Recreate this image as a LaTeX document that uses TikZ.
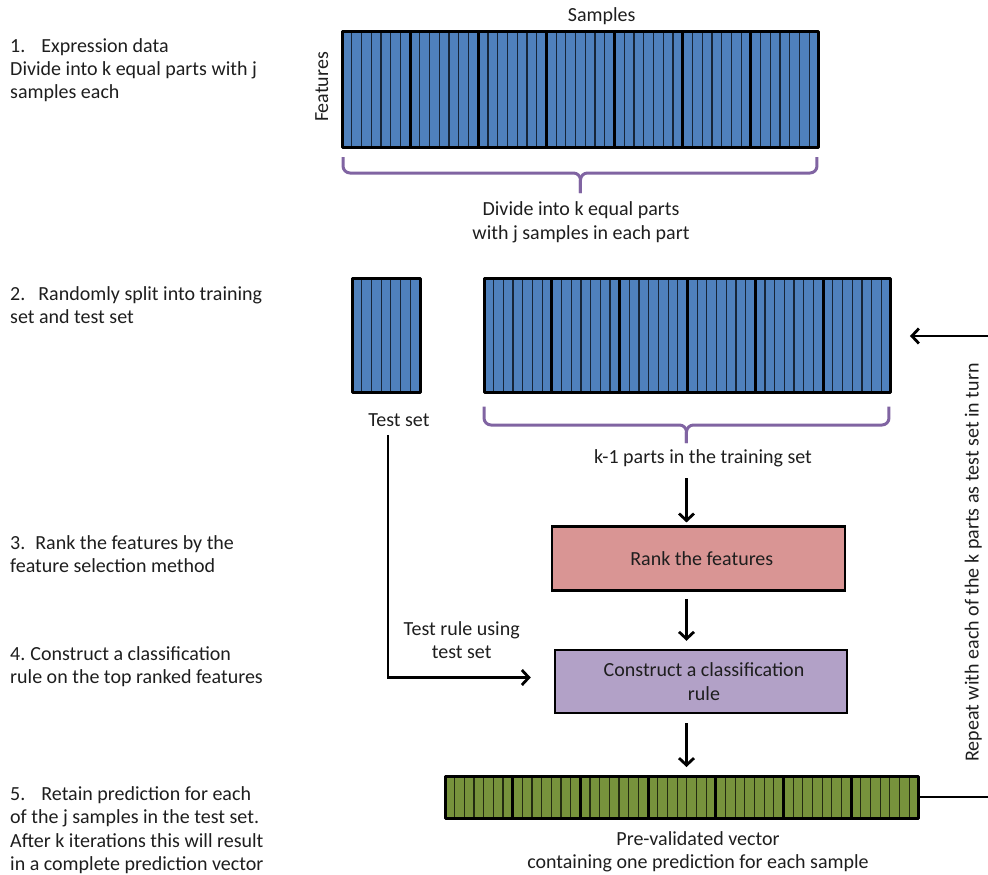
\documentclass[tikz,border=0pt]{standalone}
\usepackage{fontspec}
\setmainfont{Carlito}
\usetikzlibrary{arrows.meta,calc}

\definecolor{partblue}{HTML}{4F81BD}
\definecolor{partgreen}{HTML}{77933C}
\definecolor{rankpink}{HTML}{D99594}
\definecolor{rulelilac}{HTML}{B2A1C7}
\definecolor{bracepurple}{HTML}{8064A2}
\definecolor{inktext}{HTML}{1E1E1E}

\tikzset{
  blocknode/.style={inner sep=0pt, outer sep=0pt},
  stripeline/.style={draw=black, draw opacity=0.7, line width=1.2pt},
  partedge/.style={draw=black, line width=3pt, line join=round},
  bracestroke/.style={draw=bracepurple, line width=3pt, rounded corners=7pt},
  stepbox/.style={draw=black, line width=2.5pt, inner sep=0pt, align=center},
  lbl/.style={inner sep=0pt, text height=13pt, text depth=4pt},
  para/.style={inner sep=0pt},
  flow/.style={draw=black, line width=2.8pt},
  arrow/.style={flow, -{Straight Barb[length=7pt,width=15pt]}},
}

% striped block: name, left, top, part width, height, number of parts, fill colour
\newcommand{\partstrip}[7]{%
  \node[blocknode, minimum width={#4*#6*1pt}, minimum height={#5*1pt}, anchor=north west] (#1) at (#2,#3) {};
  \foreach \k in {1,...,#6}{%
    \pgfmathsetmacro{\xa}{#2+(\k-1)*#4}%
    \fill[#7] (\xa,#3) rectangle ++(#4,#5);
    \foreach \s in {1,...,6}{\draw[stripeline] ({\xa+\s*#4/7},#3) -- ++(0,#5);}
    \draw[partedge] (\xa,#3) rectangle ++(#4,#5);
  }%
}

\begin{document}
\begin{tikzpicture}[x=1pt, y=-1pt, font=\fontsize{20}{23.3}\selectfont, text=inktext]
\useasboundingbox (0,0) rectangle (988,875);

% ---- step descriptions on the left
\node[para, anchor=west, align=left] (s1) at (10,70.3)
  {1.\hspace{0.8em}Expression data\\Divide into k equal parts with j\\samples each};
\node[para, anchor=west, align=left] (s2) at (10,304.8)
  {2.\hspace{0.65em}Randomly split into training\\set and test set};
\node[para, anchor=west, align=left] (s3) at (10,554.3)
  {3.\hspace{0.5em}Rank the features by the\\feature selection method};
\node[para, anchor=west, align=left] (s4) at (10,666.8)
  {4.\hspace{0.25em}Construct a classification\\rule on the top ranked features};
\node[para, anchor=west, align=left] (s5) at (10,830.3)
  {5.\hspace{0.8em}Retain prediction for each\\of the j samples in the test set.\\After k iterations this will result\\in a complete prediction vector};

% ---- expression data matrix
\partstrip{data}{342}{32}{68.14}{115}{7}{partblue}
\node[lbl] (samples) at (601.7,17.2) {Samples};
\node[lbl, rotate=90] (features) at (323.5,87) {Features};

\draw[bracestroke] ($(data.south west)+(1,10)$) |- ($(data.south)+(0,26)$) -- ($(data.south)+(0,46)$);
\draw[bracestroke] ($(data.south east)+(-2,10)$) |- ($(data.south)+(0,26)$) -- ($(data.south)+(0,46)$);
\node[para, align=center] (dividelbl) at (581,222.3)
  {Divide into k equal parts\\[0.7pt]with j samples in each part};

% ---- test set and training set
\partstrip{test}{352}{278}{68}{114}{1}{partblue}
\partstrip{train}{484}{278}{67.83}{114}{6}{partblue}
\node[lbl] (testlbl) at (399,422.2) {Test set};

\draw[bracestroke] ($(train.south west)+(0,14.7)$) |- ($(train.south)+(-1,33)$) -- ($(train.south)+(-1,51)$);
\draw[bracestroke] ($(train.south east)+(-2,14.7)$) |- ($(train.south)+(-1,33)$) -- ($(train.south)+(-1,51)$);
\coordinate (tip2) at ($(train.south)+(-1,51)$);
\node[lbl] (trainlbl) at (703,458.5) {k-1 parts in the training set};

% ---- ranking and classification steps
\node[stepbox, fill=rankpink, minimum width=293pt, minimum height=64pt] (rank) at (698.3,558.7) {\hspace*{7pt}Rank the features};
\node[stepbox, fill=rulelilac, minimum width=292pt, minimum height=63pt] (construct) at (701,681.5)
  {\hspace*{6pt}Construct a classification\\\hspace*{6pt}rule};

\draw[arrow] ($(tip2)+(0,35)$) -- ($(tip2 |- rank.north)+(0,-3)$);
\draw[arrow] ($(tip2 |- rank.south)+(0,7)$) -- ($(tip2 |- construct.north)+(0,-8)$);

\draw[arrow] ($(testlbl.south)+(-11,4)$) |- ($(construct.west)+(-23,-4)$);
\node[para, align=center] (testrule) at (461.7,639.9) {Test rule using\\test set};

% ---- pre-validated prediction vector
\partstrip{pred}{445}{776}{67.7}{42}{7}{partgreen}
\draw[arrow] ($(tip2 |- construct.south)+(0,9)$) -- ($(tip2 |- pred.north)+(0,-9)$);
\node[para, align=center] (predlbl) at (698,851.8)
  {Pre-validated vector\\containing one prediction for each sample};

% ---- repeat loop back to the training split
\draw[arrow] (pred.east) -- ++(76,0) |- ($(train.east)+(19,1)$);
\node[lbl, rotate=90] (repeat) at (974,562.5) {Repeat with each of the k parts as test set in turn};

\end{tikzpicture}
\end{document}
